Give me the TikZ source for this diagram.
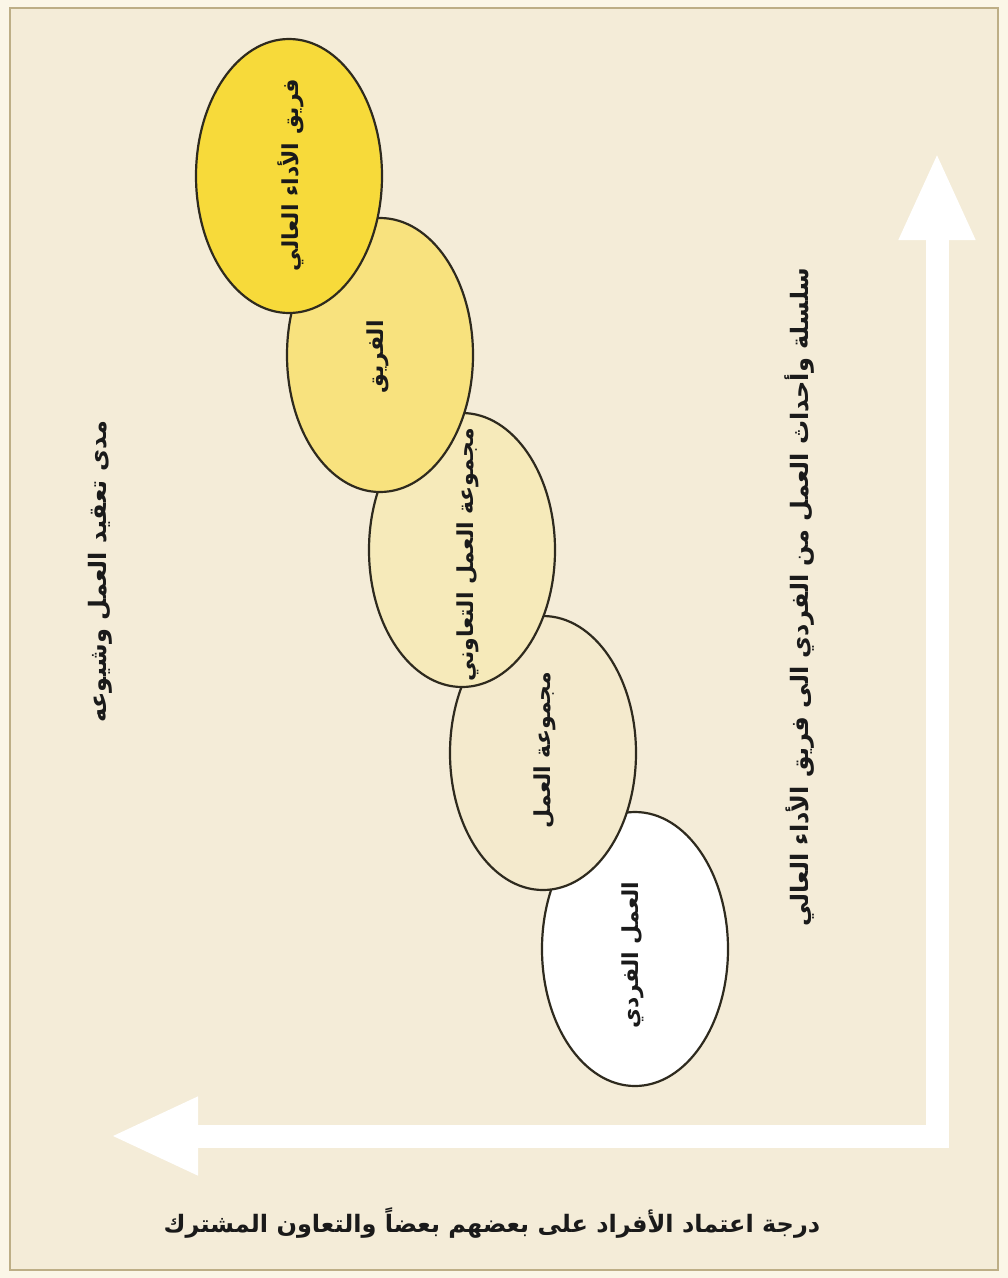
\documentclass[tikz,border=0pt]{standalone}
\usepackage{fontspec}
\newfontfamily\arabicfont[Script=Arabic]{DejaVu Sans}
\TeXXeTstate=1
\usetikzlibrary{arrows.meta,shapes.geometric}
\definecolor{outbg}{HTML}{FBF6E7}
\definecolor{bg}{HTML}{F4ECD8}
\definecolor{framec}{HTML}{BDAE86}
\definecolor{edge}{HTML}{2E2A1E}
\definecolor{fa}{HTML}{F7DA3A}
\definecolor{fb}{HTML}{F8E27E}
\definecolor{fc}{HTML}{F6EABA}
\definecolor{fd}{HTML}{F4EACD}
\definecolor{fe}{HTML}{FFFFFF}
\definecolor{txt}{HTML}{1A1A1A}
\tikzset{
  ellipse shape/.style={shape=ellipse, minimum width=186pt, minimum height=274pt, inner sep=0pt},
  stage/.style={ellipse shape, draw=edge, line width=2.2pt},
  lbl/.style={font=\arabicfont\bfseries\fontsize{22}{26}\selectfont, text=txt, inner sep=0pt},
  axislbl/.style={font=\arabicfont\bfseries\fontsize{24}{28}\selectfont, text=txt, inner sep=0pt},
  axis/.style={draw=white, line width=23pt, line join=miter,
    {Triangle[width=70pt,length=88pt]}-{Triangle[width=72pt,length=88pt]}}
}
\begin{document}
\begin{tikzpicture}[x=1pt,y=-1pt]
  \fill[outbg] (0,0) rectangle (1008,1278);
  \useasboundingbox (0,0) rectangle (1008,1278);
  \fill[bg] (10,8) rectangle (998,1270);
  \draw[framec, line width=1.6pt] (10,8) rectangle (998,1270);

  % axes
  \coordinate (ytip) at (937,152);
  \coordinate (xtip) at (110,1136);
  \draw[axis] (ytip) |- (xtip);

  % stages, drawn from bottom to top so upper ones overlap lower ones
  \node[stage, fill=fe] (s5) at (635,949) {};
  \node[stage, fill=fd] (s4) at (543,753) {};
  \node[stage, fill=fc] (s3) at (462,550) {};
  \node[stage, fill=fb] (s2) at (380,355) {};
  \node[stage, fill=fa] (s1) at (289,176) {};

  \node[lbl, rotate=90] (l1) at (291,175) {\beginR فريق الأداء العالي\endR};
  \node[lbl, rotate=90] (l2) at (378,357) {\beginR الفريق\endR};
  \node[lbl, rotate=90] (l3) at (468,555) {\beginR مجموعة العمل التعاوني\endR};
  \node[lbl, rotate=90] (l4) at (545,750) {\beginR مجموعة العمل\endR};
  \node[lbl, rotate=90] (l5) at (633,955) {\beginR العمل الفردي\endR};

  \node[axislbl, rotate=90] (left) at (100,572) {\beginR مدى تعقيد العمل وشيوعه\endR};
  \node[axislbl, rotate=90] (right) at (800,597) {\beginR سلسلة وأحداث العمل من الفردي الى فريق الأداء العالي\endR};
  \node[axislbl] (bottom) at (492,1223) {\beginR درجة اعتماد الأفراد على بعضهم بعضاً والتعاون المشترك\endR};
\end{tikzpicture}
\end{document}
